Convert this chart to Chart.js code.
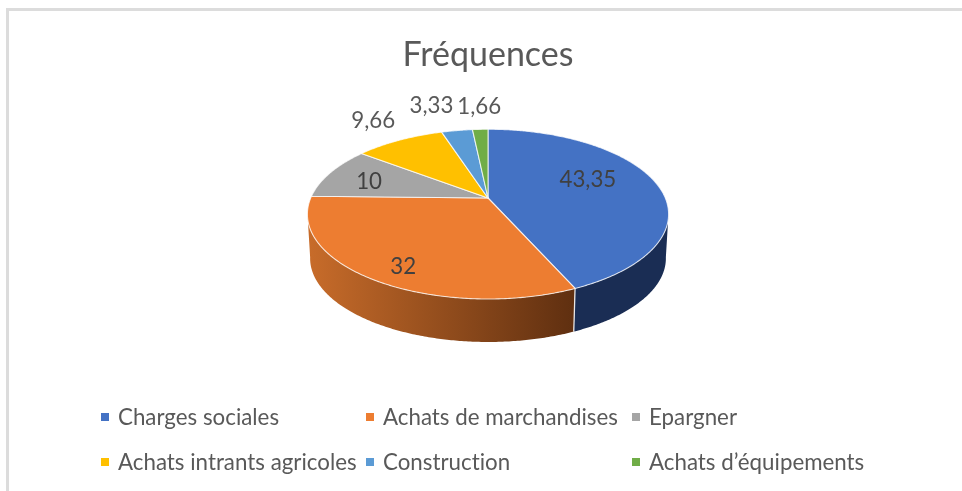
<!DOCTYPE html>
<html><head><meta charset="utf-8">
<script src="https://cdn.jsdelivr.net/npm/chart.js@4"></script>
<style>
html,body{margin:0;padding:0;background:#fff;overflow:hidden}
#frame{position:absolute;left:6px;top:8px;right:0;bottom:0;border-left:3px solid #dcdcdc;border-top:3px solid #dcdcdc}
canvas{position:absolute;left:0;top:0;filter:blur(.45px)}
</style></head><body>
<div id="frame"></div>
<canvas id="c" width="962" height="491"></canvas>
<script>
const chartTitle = 'Fréquences';
const categories = ['Charges sociales','Achats de marchandises','Epargner','Achats intrants agricoles','Construction','Achats d’équipements'];
const values = [43.35,32,10,9.66,3.33,1.66];
const valueLabels = ['43,35','32','10','9,66','3,33','1,66'];
const colors = ['#4472c4','#ed7d31','#a5a5a5','#ffc000','#5b9bd5','#70ad47'];
const wallStops = [['#1a2d54','#1a2d54'],['#c86c2a','#5f2f10'],['#6a6a6a','#6a6a6a'],['#a07800','#a07800'],['#3a6a98','#3a6a98'],['#4a7430','#4a7430']];
const labelShift = [[-67,-2],[32,-12],[38.6,9.3],[-26,-19.5],[-25.5,-25],[-1,-22.6]];
const FONT = 'Lato, "Open Sans", sans-serif';
const P = {y0:198, R:177.3, b:81.8, k:-0.19, scale:0.985, depth:44.5};

function project(cx,a,f){
  f = f===undefined?1:f;
  const u=Math.cos(a)*f, v=Math.sin(a)*f, d=1+P.k*v;
  return [cx+P.R*u/d, P.y0+P.b*v/d];
}
function lower(cx,p){
  return [cx+(p[0]-cx)*P.scale, P.y0+P.depth+(p[1]-P.y0)*P.scale];
}
function samples(a0,a1){
  const n=Math.max(2,Math.ceil((a1-a0)/0.01)), out=[];
  for(let i=0;i<=n;i++) out.push(a0+(a1-a0)*i/n);
  return out;
}
const pie3d = {
  id:'pie3d',
  beforeDatasetDraw(chart,args){
    const ctx=chart.ctx, arcs=args.meta.data, cx=arcs[0].x;
    const limit=Math.asin(0.178);          // silhouette of the disc
    const a0=limit, a1=Math.PI-limit;
    ctx.save();
    // outer wall
    arcs.forEach((arc,i)=>{
      const s=Math.max(arc.startAngle,a0), e=Math.min(arc.endAngle,a1);
      if(e<=s) return;
      const top=samples(s,e).map(a=>project(cx,a));
      const bot=top.map(p=>lower(cx,p));
      const xs=top.map(p=>p[0]), gx0=Math.min(...xs), gx1=Math.max(...xs);
      const g=ctx.createLinearGradient(gx0,0,gx1,0);
      g.addColorStop(0,wallStops[i][0]); g.addColorStop(1,wallStops[i][1]);
      ctx.beginPath();
      top.forEach((p,j)=>j?ctx.lineTo(p[0],p[1]):ctx.moveTo(p[0],p[1]));
      bot.reverse().forEach(p=>ctx.lineTo(p[0],p[1]));
      ctx.closePath();
      ctx.fillStyle=g; ctx.fill();
    });
    // white edge where two walls meet
    arcs.forEach(arc=>{
      if(arc.endAngle>a0 && arc.endAngle<a1){
        const p=project(cx,arc.endAngle), q=lower(cx,p);
        ctx.beginPath();ctx.moveTo(p[0],p[1]);ctx.lineTo(q[0],q[1]);
        ctx.strokeStyle='rgba(255,255,255,.85)';ctx.lineWidth=1.3;ctx.stroke();
      }
    });
    // top face
    arcs.forEach((arc,i)=>{
      const c=project(cx,0,0);
      ctx.beginPath();ctx.moveTo(c[0],c[1]);
      samples(arc.startAngle,arc.endAngle).forEach(a=>{const p=project(cx,a);ctx.lineTo(p[0],p[1]);});
      ctx.closePath();
      ctx.fillStyle=colors[i];ctx.fill();
      ctx.strokeStyle='rgba(255,255,255,.75)';ctx.lineWidth=1.1;ctx.lineJoin='round';ctx.stroke();
    });
    // value labels
    ctx.font='22.3px '+FONT;ctx.textAlign='center';ctx.textBaseline='middle';
    arcs.forEach((arc,i)=>{
      const p=project(cx,(arc.startAngle+arc.endAngle)/2);
      ctx.fillStyle= i<3 ? '#404040' : '#595959';
      ctx.fillText(valueLabels[i],p[0]+labelShift[i][0],p[1]+labelShift[i][1]);
    });
    // legend
    ctx.font='22.3px '+FONT;ctx.textAlign='left';ctx.letterSpacing='0.01px';
    categories.forEach((name,i)=>{
      const col=i%3,row=Math.floor(i/3);
      const x=[101,366,632][col], y=[417,462][row];
      ctx.fillStyle=colors[i];ctx.fillRect(x,y-4,8,8);
      ctx.fillStyle='#595959';ctx.fillText(name,x+17,y+1);
    });
    ctx.restore();
    return false;
  }
};
new Chart(document.getElementById('c'),{
  type:'pie',
  data:{labels:categories,datasets:[{data:values,backgroundColor:colors,borderWidth:0}]},
  options:{
    responsive:false,animation:false,
    layout:{padding:{left:14,right:0,top:0,bottom:120}},
    plugins:{
      legend:{display:false},tooltip:{enabled:false},
      title:{display:true,text:chartTitle,color:'#595959',font:{family:FONT,size:34,weight:'normal'},padding:{top:35,bottom:0}}
    }
  },
  plugins:[pie3d]
});
</script>
</body></html>
